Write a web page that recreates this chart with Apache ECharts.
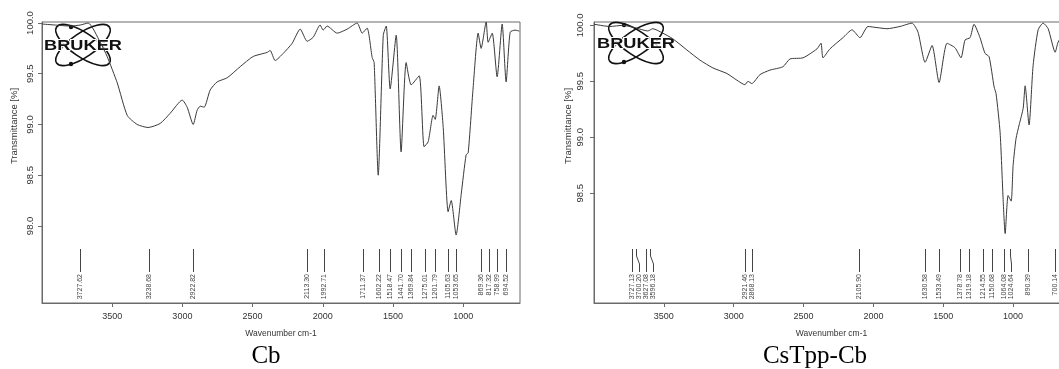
<!DOCTYPE html>
<html>
<head>
<meta charset="utf-8">
<style>
  html, body { margin: 0; padding: 0; background: #fff; }
  #chart { width: 1059px; height: 369px; }
</style>
<script src="https://cdn.jsdelivr.net/npm/echarts@6/dist/echarts.min.js"></script>
</head>
<body>
<div id="chart"></div>
<script>
// FTIR spectra
const cbWavenumber = [3999, 3906, 3799, 3728, 3671, 3585, 3536, 3464, 3393, 3322, 3244, 3158, 3087, 3001, 2966,
  2923, 2895, 2873, 2845, 2802, 2752, 2681, 2588, 2496, 2396, 2375, 2339, 2282, 2218, 2161, 2111, 2068, 2019, 1997,
  1969, 1897, 1826, 1755, 1719, 1684, 1648, 1634, 1605, 1569, 1548, 1520, 1477, 1442, 1406, 1370, 1313, 1278, 1249,
  1214, 1199, 1171, 1142, 1107, 1085, 1050, 1014, 979, 964, 929, 893, 872, 836, 822, 793, 758, 722, 694, 665, 630, 600];
const cbTransmittance = [99.99, 99.98, 99.97, 99.98, 100.0, 99.81, 99.67, 99.41, 99.09, 99.00, 98.97, 99.01, 99.11,
  99.24, 99.17, 99.00, 99.14, 99.18, 99.17, 99.34, 99.42, 99.46, 99.57, 99.67, 99.71, 99.73, 99.63, 99.70, 99.80,
  99.94, 99.82, 99.86, 99.98, 99.93, 99.97, 99.90, 99.94, 100.0, 99.90, 99.95, 99.66, 99.61, 98.50, 99.88, 99.97,
  99.35, 99.88, 98.73, 99.61, 99.39, 99.48, 98.78, 98.83, 99.09, 99.05, 99.38, 98.97, 98.14, 98.25, 97.91, 98.31,
  98.70, 98.72, 99.36, 99.90, 99.75, 100.01, 99.81, 99.90, 99.47, 99.99, 99.42, 99.91, 99.93, 99.92];

const csWavenumber = [4000, 3887, 3794, 3708, 3615, 3579, 3507, 3436, 3335, 3242, 3149, 3049, 2977, 2920, 2898, 2870,
  2812, 2741, 2648, 2597, 2504, 2404, 2375, 2361, 2311, 2218, 2153, 2096, 2039, 1974, 1903, 1810, 1724, 1681, 1630,
  1580, 1530, 1473, 1416, 1373, 1344, 1308, 1280, 1237, 1201, 1172, 1136, 1122, 1093, 1072, 1057, 1036, 1014, 1000,
  979, 957, 928, 914, 886, 857, 821, 785, 749, 699, 678, 620];
const csTransmittance = [100.01, 99.99, 100.0, 99.98, 99.95, 99.97, 99.93, 99.88, 99.78, 99.69, 99.62, 99.57, 99.51,
  99.47, 99.50, 99.48, 99.56, 99.60, 99.63, 99.70, 99.71, 99.79, 99.84, 99.71, 99.79, 99.89, 99.96, 99.89, 99.99,
  99.98, 99.97, 99.99, 100.02, 99.94, 99.67, 99.82, 99.49, 99.84, 99.80, 99.71, 99.87, 99.89, 100.01, 99.89, 99.75,
  99.72, 99.45, 99.39, 99.04, 98.46, 98.14, 98.48, 98.43, 98.75, 98.99, 99.11, 99.26, 99.46, 99.11, 99.64, 99.96,
  100.02, 99.97, 99.76, 99.85, 99.97];

const cbPeaks = [3727.62, 3238.68, 2922.82, 2113.30, 1992.71, 1711.37, 1602.22, 1518.47, 1441.70, 1369.84, 1275.01,
  1201.79, 1105.63, 1053.65, 869.36, 817.32, 758.99, 694.52];
const csPeaks = [3727.13, 3700.20, 3627.08, 3596.18, 2921.46, 2868.13, 2105.90, 1630.58, 1533.49, 1378.78, 1319.18,
  1214.55, 1150.68, 1064.08, 1024.64, 890.39, 700.14];

const xTicks = [3500, 3000, 2500, 2000, 1500, 1000];
const cbYTicks = [98.0, 98.5, 99.0, 99.5, 100.0];
const csYTicks = [98.5, 99.0, 99.5, 100.0];
const captions = ["Cb", "CsTpp-Cb"];

const FONT = '"Liberation Sans", Arial, sans-serif';
const INK = "#333";
const AXIS = "#6a6a6a";

const chart = echarts.init(document.getElementById("chart"));

function pairs(xs, ys) {
  return xs.map((x, i) => [x, ys[i]]);
}

function makeXAxis(gridIndex, min) {
  return {
    gridIndex, type: "value", inverse: true, min, max: 4000,
    name: "Wavenumber cm-1", nameLocation: "middle", nameGap: 26,
    nameTextStyle: { fontSize: 8.5, color: INK, fontFamily: FONT },
    axisLine: { show: true, lineStyle: { color: AXIS, width: 1 } },
    axisTick: { show: true, length: 4, customValues: xTicks, lineStyle: { color: AXIS } },
    axisLabel: {
      customValues: xTicks, fontSize: 9, color: INK, fontFamily: FONT, margin: 9,
      formatter: (v) => String(v)
    },
    splitLine: { show: false }
  };
}

function makeYAxis(gridIndex, min, max, ticks, margin) {
  return {
    gridIndex, type: "value", min, max,
    axisLine: { show: true, lineStyle: { color: AXIS, width: 1 } },
    axisTick: { show: true, length: 4, customValues: ticks, lineStyle: { color: AXIS } },
    axisLabel: {
      customValues: ticks, rotate: 90, fontSize: 9.5, color: INK, fontFamily: FONT, margin,
      formatter: (v) => v.toFixed(1)
    },
    splitLine: { show: false }
  };
}

// peak markers: tick line + rotated wavenumber, spread apart when crowded
function peakSeries(peaks, idx) {
  return {
    type: "custom",
    xAxisIndex: idx, yAxisIndex: idx,
    data: peaks.map((p) => [p]),
    encode: { x: 0 },
    clip: false,
    silent: true,
    z: 3,
    renderItem: (params, api) => {
      const cs = params.coordSys;
      const bottom = cs.y + cs.height;
      const px = peaks.map((p) => api.coord([p, 99])[0]);
      const order = px.map((v, i) => i).sort((a, b) => px[a] - px[b]);
      const lx = px.slice();
      for (let k = 1; k < order.length; k++) {
        const prev = lx[order[k - 1]];
        if (lx[order[k]] < prev + 7) lx[order[k]] = prev + 7;
      }
      const i = params.dataIndex;
      const x0 = Math.round(px[i]) + 0.5;
      const x1 = Math.round(lx[i]) + 0.5;
      const yTop = bottom - 54;
      const yEnd = bottom - 31;
      return {
        type: "group",
        children: [
          {
            type: "polyline",
            shape: { points: [[x0, yTop], [x0, yTop + 7], [x1, yTop + 15], [x1, yEnd]] },
            style: { stroke: "#444", lineWidth: 1, fill: null }
          },
          {
            type: "text", x: x1, y: yEnd + 2, rotation: Math.PI / 2,
            style: {
              text: peaks[i].toFixed(2), fontSize: 7, fontFamily: FONT, fill: "#444",
              align: "right", verticalAlign: "middle"
            }
          }
        ]
      };
    }
  };
}

function logo(cx, cy) {
  const ring = { fill: null, stroke: "#111", lineWidth: 1.6 };
  return {
    type: "group", x: cx, y: cy, z: 20,
    children: [
      { type: "ellipse", rotation: -0.6, shape: { cx: 0, cy: 0, rx: 32, ry: 12 }, style: ring },
      { type: "ellipse", rotation: 0.6, shape: { cx: 0, cy: 0, rx: 32, ry: 12 }, style: ring },
      { type: "circle", shape: { cx: -12, cy: -18, r: 2.2 }, style: { fill: "#111" } },
      { type: "circle", shape: { cx: -12, cy: 19, r: 2.2 }, style: { fill: "#111" } },
      {
        type: "text", x: 0, y: 1, scaleX: 1.3,
        style: {
          text: "BRUKER", font: 'bold 14px "Liberation Sans"', fill: "#111",
          stroke: "#fff", lineWidth: 2, align: "center", verticalAlign: "middle"
        }
      }
    ]
  };
}

function yName(x) {
  return {
    type: "text", x, y: 126, rotation: Math.PI / 2,
    style: { text: "Transmittance [%]", fontSize: 9.5, fontFamily: FONT, fill: INK, align: "center", verticalAlign: "middle" }
  };
}

function caption(text, x) {
  return {
    type: "text", x, y: 356,
    style: { text, font: '25px "Liberation Serif"', fill: "#000", align: "center", verticalAlign: "middle" }
  };
}

const gridStyle = { show: true, borderColor: AXIS, borderWidth: 1, backgroundColor: "transparent", outerBoundsMode: "none" };

chart.setOption({
  animation: false,
  backgroundColor: "#fff",
  grid: [
    Object.assign({ left: 42, top: 22, width: 478, height: 281 }, gridStyle),
    Object.assign({ left: 594, top: 22, width: 475, height: 281 }, gridStyle)
  ],
  xAxis: [makeXAxis(0, 595), makeXAxis(1, 600)],
  yAxis: [makeYAxis(0, 97.24, 100.01, cbYTicks, 7), makeYAxis(1, 97.52, 100.03, csYTicks, 9)],
  series: [
    {
      type: "line", xAxisIndex: 0, yAxisIndex: 0, data: pairs(cbWavenumber, cbTransmittance),
      showSymbol: false, smooth: 0.2, lineStyle: { color: "#3a3a3a", width: 1 }, z: 2
    },
    {
      type: "line", xAxisIndex: 1, yAxisIndex: 1, data: pairs(csWavenumber, csTransmittance),
      showSymbol: false, smooth: 0.2, lineStyle: { color: "#3a3a3a", width: 1 }, z: 2
    },
    peakSeries(cbPeaks, 0),
    peakSeries(csPeaks, 1)
  ],
  graphic: [
    yName(14), yName(568),
    logo(83, 45), logo(636, 43),
    caption(captions[0], 266), caption(captions[1], 815)
  ]
});
</script>
</body>
</html>
